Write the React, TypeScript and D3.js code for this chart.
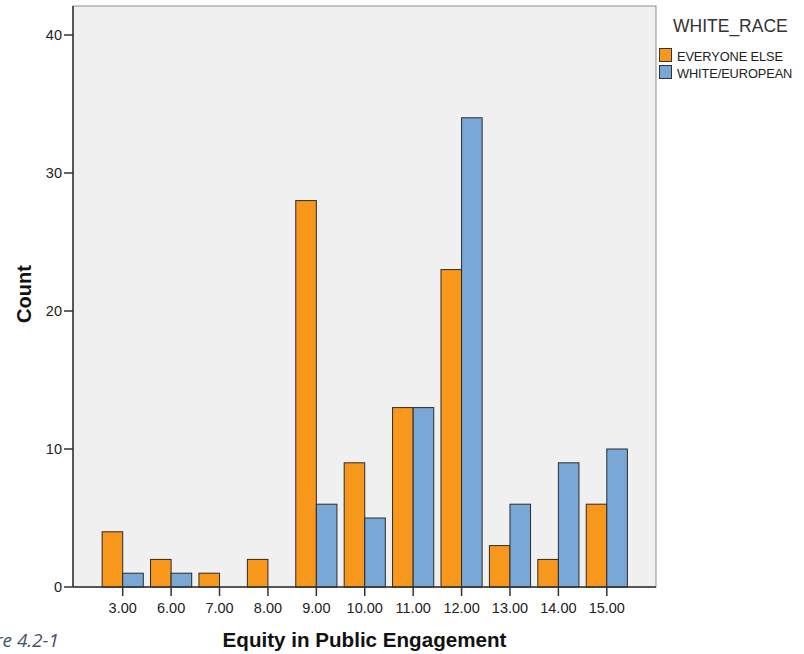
import React from "react";
import * as d3 from "d3";

const categories = ["3.00", "6.00", "7.00", "8.00", "9.00", "10.00", "11.00", "12.00", "13.00", "14.00", "15.00"];
const seriesNames = ["EVERYONE ELSE", "WHITE/EUROPEAN"];
const everyoneElse = [4, 2, 1, 2, 28, 9, 13, 23, 3, 2, 6];
const whiteEuropean = [1, 1, 0, 0, 6, 5, 13, 34, 6, 9, 10];
const yTicks = [0, 10, 20, 30, 40];
const colors = ["#F7981D", "#79A8D6"];

const W = 804, H = 654;
const plotL = 73, plotR = 656, plotT = 6, plotB = 587;
const FONT = "'Liberation Sans', Arial, sans-serif";

export default function App() {
  const x = d3.scaleBand<string>().domain(categories).range([98.5, 631]).padding(0);
  const step = x.step();
  const xSub = d3.scaleBand<string>().domain(seriesNames).range([step * 0.075, step * 0.925]).padding(0);
  const y = d3.scaleLinear().domain([0, 40]).range([plotB, 35]);
  const series = [everyoneElse, whiteEuropean];

  return (
    <svg width={W} height={H} style={{ position: "absolute", left: 0, top: 0, background: "#fff" }} fontFamily={FONT}>
      <rect x={plotL} y={plotT} width={plotR - plotL} height={plotB - plotT} fill="#F0F0F0" stroke="#8C8C8C" strokeWidth={1} />
      {series.map((vals, si) =>
        vals.map((v, i) =>
          v > 0 ? (
            <rect
              key={`${si}-${i}`}
              x={(x(categories[i]) as number) + (xSub(seriesNames[si]) as number)}
              y={y(v)}
              width={xSub.bandwidth()}
              height={y(0) - y(v)}
              fill={colors[si]}
              stroke="#2b2b2b"
              strokeWidth={1}
            />
          ) : null
        )
      )}
      {/* axes */}
      <line x1={plotL} x2={plotL} y1={plotT} y2={plotB} stroke="#333" strokeWidth={1.5} />
      <line x1={plotL} x2={plotR} y1={plotB} y2={plotB} stroke="#333" strokeWidth={1.5} />
      {yTicks.map((t) => (
        <g key={t}>
          <line x1={64} x2={plotL} y1={y(t)} y2={y(t)} stroke="#333" strokeWidth={1.5} />
          <text x={62} y={y(t)} dy="0.36em" textAnchor="end" fontSize={14.5} fill="#222">{t}</text>
        </g>
      ))}
      {categories.map((c) => {
        const cx = (x(c) as number) + step / 2;
        return (
          <g key={c}>
            <line x1={cx} x2={cx} y1={plotB} y2={596} stroke="#333" strokeWidth={1.5} />
            <text x={cx} y={613} textAnchor="middle" fontSize={14.5} fill="#222">{c}</text>
          </g>
        );
      })}
      <text transform="translate(31,294) rotate(-90)" textAnchor="middle" fontSize={20} fontWeight="bold" fill="#111">Count</text>
      <text x={(plotL + plotR) / 2} y={647} textAnchor="middle" fontSize={20.6} fontWeight="bold" fill="#111">Equity in Public Engagement</text>
      {/* legend */}
      <text x={673} y={32} fontSize={17.5} fill="#333">WHITE_RACE</text>
      {seriesNames.map((s, i) => (
        <g key={s}>
          <rect x={659.5} y={48.5 + i * 17} width={12} height={13} fill={colors[i]} stroke="#333" strokeWidth={1} />
          <text x={677} y={61 + i * 17} fontSize={12.8} fill="#222" letterSpacing={-0.1}>{s}</text>
        </g>
      ))}
      <text x={59} y={647} textAnchor="end" fontSize={19} fontStyle="italic" fill="#44546A" fontFamily="'Open Sans', sans-serif">Figure 4.2-1</text>
    </svg>
  );
}
